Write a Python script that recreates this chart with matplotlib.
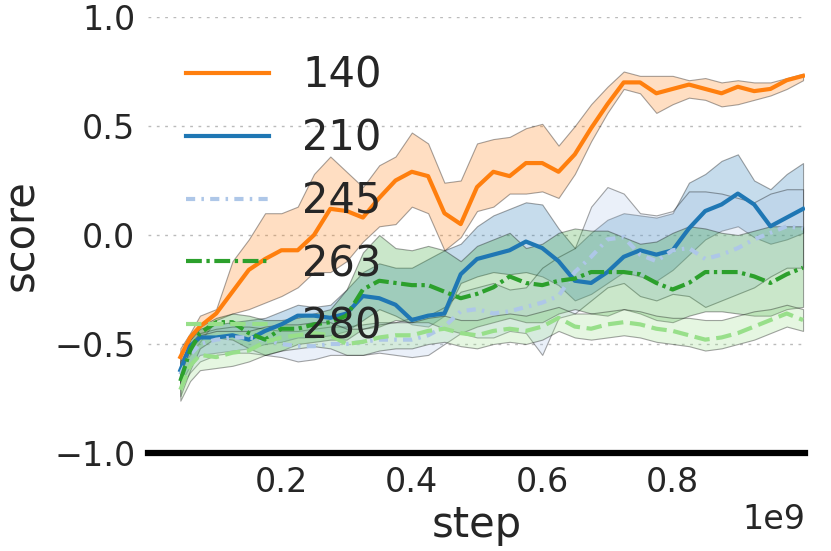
import matplotlib as mpl
mpl.use('Agg')
import matplotlib.pyplot as plt
from matplotlib.colors import to_rgba
import numpy as np

# training step (in units of 1e9)
step = [0.045, 0.06, 0.075, 0.1, 0.125, 0.15, 0.175, 0.2, 0.225, 0.25,
        0.275, 0.3, 0.325, 0.35, 0.375, 0.4, 0.425, 0.45, 0.475, 0.5,
        0.525, 0.55, 0.575, 0.6, 0.625, 0.65, 0.675, 0.7, 0.725, 0.75,
        0.775, 0.8, 0.825, 0.85, 0.875, 0.9, 0.925, 0.95, 0.975, 1.0]

labels = ['140', '210', '245', '263', '280']
colors = ['#ff7f0e', '#1f77b4', '#aec7e8', '#2ca02c', '#98df8a']

mean_140 = [-0.56, -0.47, -0.42, -0.36, -0.26, -0.16, -0.11, -0.07, -0.07, 0.0,
            0.12, 0.11, 0.08, 0.17, 0.25, 0.29, 0.27, 0.10, 0.05, 0.22,
            0.29, 0.27, 0.33, 0.33, 0.29, 0.37, 0.49, 0.60, 0.70, 0.70,
            0.65, 0.67, 0.69, 0.67, 0.65, 0.68, 0.66, 0.67, 0.71, 0.73]
hi_140 = [-0.52, -0.45, -0.37, -0.34, -0.12, -0.02, 0.10, 0.10, 0.13, 0.28,
          0.36, 0.29, 0.22, 0.32, 0.36, 0.47, 0.42, 0.24, 0.25, 0.42,
          0.44, 0.45, 0.49, 0.51, 0.41, 0.50, 0.60, 0.68, 0.75, 0.73,
          0.73, 0.73, 0.71, 0.72, 0.70, 0.71, 0.70, 0.70, 0.72, 0.74]
lo_140 = [-0.60, -0.55, -0.49, -0.39, -0.36, -0.34, -0.31, -0.28, -0.24, -0.17,
          -0.17, -0.12, -0.03, 0.04, 0.05, 0.13, 0.10, -0.07, -0.01, 0.11,
          0.13, 0.19, 0.19, 0.20, 0.17, 0.28, 0.43, 0.56, 0.67, 0.65,
          0.56, 0.60, 0.63, 0.62, 0.59, 0.60, 0.62, 0.64, 0.67, 0.71]

mean_210 = [-0.62, -0.51, -0.47, -0.47, -0.46, -0.48, -0.44, -0.41, -0.37, -0.37,
            -0.38, -0.36, -0.28, -0.29, -0.32, -0.39, -0.37, -0.36, -0.18, -0.11,
            -0.09, -0.07, -0.03, -0.06, -0.12, -0.21, -0.22, -0.17, -0.10, -0.07,
            -0.09, -0.07, 0.03, 0.11, 0.14, 0.19, 0.14, 0.04, 0.08, 0.12]
hi_210 = [-0.55, -0.48, -0.43, -0.41, -0.40, -0.39, -0.38, -0.35, -0.32, -0.33,
          -0.32, -0.25, -0.17, -0.13, -0.15, -0.15, -0.11, -0.07, -0.04, 0.04,
          0.09, 0.12, 0.15, 0.14, 0.03, -0.06, 0.01, 0.07, 0.10, 0.09,
          0.08, 0.10, 0.24, 0.28, 0.34, 0.37, 0.25, 0.21, 0.28, 0.33]
lo_210 = [-0.68, -0.60, -0.55, -0.54, -0.53, -0.52, -0.50, -0.49, -0.47, -0.47,
          -0.46, -0.44, -0.39, -0.34, -0.37, -0.41, -0.42, -0.37, -0.22, -0.19,
          -0.17, -0.18, -0.17, -0.19, -0.23, -0.30, -0.27, -0.22, -0.17, -0.19,
          -0.21, -0.16, -0.09, -0.02, 0.02, 0.04, -0.01, -0.04, -0.02, 0.01]

mean_245 = [-0.64, -0.55, -0.50, -0.48, -0.47, -0.47, -0.48, -0.50, -0.51, -0.51,
            -0.50, -0.50, -0.49, -0.48, -0.48, -0.48, -0.46, -0.42, -0.35, -0.34,
            -0.36, -0.35, -0.33, -0.31, -0.28, -0.17, -0.10, -0.02, -0.01, -0.09,
            -0.12, -0.07, -0.06, -0.11, -0.09, -0.06, -0.02, 0.01, 0.04, 0.03]
hi_245 = [-0.58, -0.50, -0.45, -0.43, -0.42, -0.42, -0.43, -0.44, -0.44, -0.43,
          -0.42, -0.42, -0.41, -0.40, -0.40, -0.38, -0.37, -0.33, -0.26, -0.24,
          -0.22, -0.25, -0.24, -0.15, -0.10, -0.06, 0.13, 0.22, 0.19, 0.10,
          0.09, 0.11, 0.20, 0.20, 0.19, 0.17, 0.15, 0.19, 0.21, 0.21]
lo_245 = [-0.70, -0.63, -0.58, -0.55, -0.54, -0.54, -0.55, -0.56, -0.58, -0.57,
          -0.55, -0.55, -0.55, -0.54, -0.55, -0.56, -0.55, -0.50, -0.45, -0.47,
          -0.47, -0.44, -0.45, -0.55, -0.38, -0.36, -0.30, -0.24, -0.22, -0.28,
          -0.30, -0.27, -0.28, -0.33, -0.30, -0.27, -0.24, -0.19, -0.15, -0.15]

mean_263 = [-0.67, -0.53, -0.45, -0.40, -0.40, -0.45, -0.48, -0.43, -0.43, -0.41,
            -0.40, -0.37, -0.25, -0.21, -0.22, -0.23, -0.23, -0.26, -0.29, -0.27,
            -0.24, -0.19, -0.22, -0.23, -0.21, -0.20, -0.17, -0.17, -0.17, -0.18,
            -0.22, -0.25, -0.22, -0.17, -0.17, -0.17, -0.19, -0.22, -0.18, -0.15]
hi_263 = [-0.60, -0.48, -0.42, -0.38, -0.36, -0.37, -0.39, -0.39, -0.38, -0.36,
          -0.34, -0.25, -0.08, 0.00, -0.06, -0.07, -0.05, -0.07, -0.12, -0.05,
          -0.02, 0.01, -0.06, -0.04, 0.01, 0.03, 0.02, 0.02, -0.01, -0.04,
          -0.03, 0.01, 0.04, 0.03, 0.01, 0.00, 0.02, 0.04, 0.04, 0.04]
lo_263 = [-0.74, -0.62, -0.52, -0.47, -0.48, -0.52, -0.55, -0.53, -0.50, -0.49,
          -0.48, -0.48, -0.43, -0.42, -0.39, -0.40, -0.40, -0.43, -0.45, -0.42,
          -0.40, -0.38, -0.40, -0.40, -0.36, -0.34, -0.36, -0.37, -0.34, -0.36,
          -0.39, -0.40, -0.37, -0.35, -0.35, -0.36, -0.37, -0.37, -0.34, -0.33]

mean_280 = [-0.71, -0.60, -0.55, -0.56, -0.54, -0.53, -0.49, -0.47, -0.46, -0.45,
            -0.46, -0.50, -0.49, -0.47, -0.46, -0.46, -0.44, -0.43, -0.45, -0.46,
            -0.44, -0.43, -0.44, -0.42, -0.38, -0.42, -0.43, -0.41, -0.40, -0.41,
            -0.43, -0.44, -0.46, -0.48, -0.47, -0.45, -0.42, -0.39, -0.36, -0.39]
hi_280 = [-0.64, -0.52, -0.46, -0.44, -0.44, -0.44, -0.42, -0.41, -0.41, -0.40,
          -0.40, -0.43, -0.43, -0.41, -0.40, -0.40, -0.38, -0.37, -0.39, -0.39,
          -0.37, -0.36, -0.37, -0.35, -0.33, -0.36, -0.36, -0.35, -0.34, -0.35,
          -0.37, -0.38, -0.38, -0.39, -0.39, -0.37, -0.35, -0.34, -0.32, -0.34]
lo_280 = [-0.76, -0.67, -0.62, -0.61, -0.60, -0.58, -0.55, -0.53, -0.52, -0.51,
          -0.52, -0.55, -0.55, -0.53, -0.52, -0.52, -0.50, -0.49, -0.51, -0.52,
          -0.50, -0.49, -0.50, -0.48, -0.44, -0.47, -0.48, -0.47, -0.46, -0.47,
          -0.49, -0.50, -0.51, -0.53, -0.52, -0.50, -0.48, -0.45, -0.42, -0.44]

means = [mean_140, mean_210, mean_245, mean_263, mean_280]
highs = [hi_140, hi_210, hi_245, hi_263, hi_280]
lows = [lo_140, lo_210, lo_245, lo_263, lo_280]
styles = ['-', '-', (0, (2.2, 1.5, 0.6, 1.5)), (0, (3.8, 1.1, 0.8, 1.1)), (0, (3.7, 1.6))]

txt = '#262626'
plt.rcParams['font.family'] = 'DejaVu Sans'

fig = plt.figure(figsize=[8.31, 5.51], dpi=100)
ax = fig.add_axes([148/831, 98/551, 657/831, 436/551])

x = np.array(step) * 1e9
for c, lo, hi in zip(colors, lows, highs):
    ax.fill_between(x, lo, hi, facecolor=to_rgba(c, 0.25),
                    edgecolor=(0, 0, 0, 0.35), lw=0.8)
for lab, c, m, ls in zip(labels, colors, means, styles):
    ax.plot(x, m, color=c, lw=3, linestyle=ls, label=lab)

ax.set_xlim(-0.0046e9, 1.003e9)
ax.set_ylim(-1.0, 1.0)
ax.set_xticks([0.2e9, 0.4e9, 0.6e9, 0.8e9])
ax.set_yticks([-1.0, -0.5, 0.0, 0.5, 1.0])
ax.ticklabel_format(axis='x', style='sci', scilimits=(9, 9))
ax.yaxis.grid(True, color='#bbbbbb', linestyle=(0, (2, 4)), lw=1)
ax.set_axisbelow(True)

for s in ['top', 'right', 'left']:
    ax.spines[s].set_visible(False)
ax.spines['bottom'].set_color('black')
ax.spines['bottom'].set_linewidth(4.5)

ax.tick_params(axis='both', length=0, labelsize=24, labelcolor=txt)
ax.tick_params(axis='y', pad=9)
ax.tick_params(axis='x', pad=9)
ax.xaxis.get_offset_text().set_fontsize(24)
ax.xaxis.get_offset_text().set_color(txt)

ax.set_xlabel('step', fontsize=30, color=txt, labelpad=4)
ax.set_ylabel('score', fontsize=30, color=txt, labelpad=9)

leg = ax.legend(loc='upper left', frameon=False, fontsize=30)
for t in leg.get_texts():
    t.set_color(txt)

plt.savefig('out.png', dpi=100)
plt.close(fig)
